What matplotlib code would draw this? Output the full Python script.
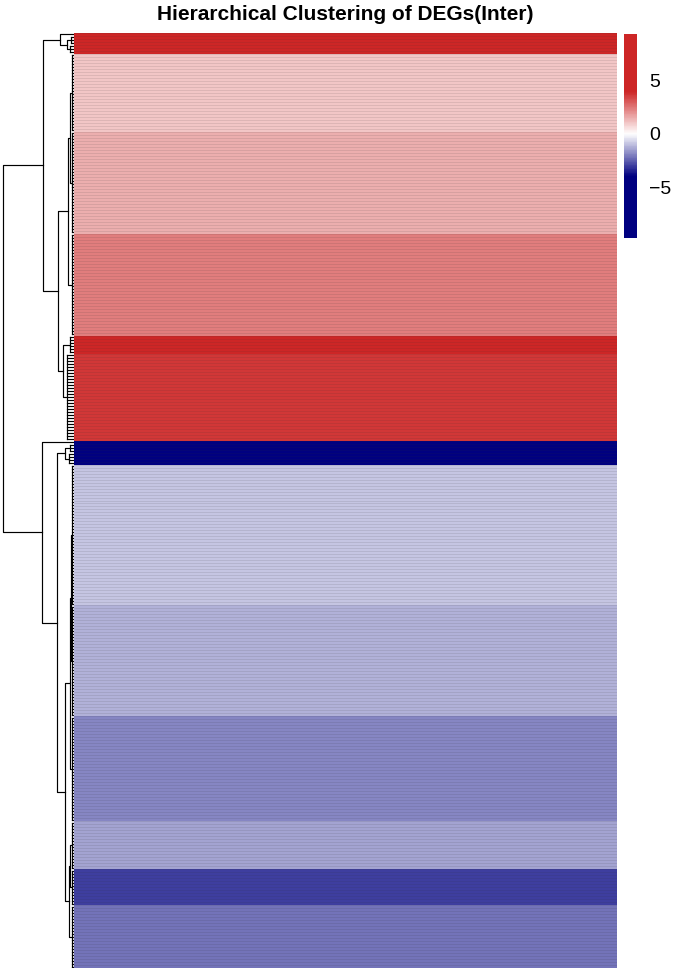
import numpy as np
import matplotlib as mpl
import matplotlib.pyplot as plt
from matplotlib.colors import LinearSegmentedColormap

# row blocks, top to bottom: rows in block, value (logFC), internal merge height
block_rows = [1, 3, 3, 26, 34, 34, 6, 29, 1, 3, 4, 47, 37, 35, 16, 12, 21]
block_values = [9.3, 8.8, 8.0, 1.0, 1.5, 2.4, 5.5, 3.7,
                -9.8, -6.5, -5.5, -0.9, -1.2, -1.9, -1.4, -3.0, -2.2]
block_spread = [0, 0.8, 0.9, 0.4, 0.5, 0.6, 0.9, 1.8,
                0, 1.0, 1.2, 0.4, 0.5, 0.6, 0.4, 0.6, 0.6]

# linkage between blocks (left, right, height); new nodes numbered after blocks
merges = [
    (1, 2, 1.7), (0, 17, 3.6), (3, 4, 0.9), (19, 5, 1.5), (6, 7, 2.8),
    (20, 21, 4.1), (18, 22, 7.9), (9, 10, 2.3), (11, 12, 0.8), (25, 13, 1.0),
    (14, 15, 0.9), (27, 16, 1.3), (26, 28, 2.3), (24, 29, 4.3), (8, 30, 8.1),
    (23, 31, 18.0),
]

legend_ticks = [-5, 0, 5]
vmin, vmax = -9.8, 9.4
sat = 4.0
title = 'Hierarchical Clustering of DEGs(Inter)'

plt.rcParams['font.family'] = ['Liberation Sans', 'DejaVu Sans']

values = np.repeat(block_values, block_rows)
nrows = len(values)
starts = np.concatenate([[0], np.cumsum(block_rows)[:-1]])

# navy - white - firebrick3, flat beyond +-sat
lo = (-sat - vmin) / (vmax - vmin)
mid = (0 - vmin) / (vmax - vmin)
hi = (sat - vmin) / (vmax - vmin)
cmap = LinearSegmentedColormap.from_list(
    'nwf', [(0, '#000080'), (lo, '#000080'), (mid, '#ffffff'),
            (hi, '#CD2626'), (1, '#CD2626')])

W, H = 675, 973
fig = plt.figure(figsize=(W / 100, H / 100), dpi=100)
top, bottom = 33, 968

ax = fig.add_axes([74 / W, 1 - bottom / H, 543 / W, (bottom - top) / H])
mesh = ax.pcolormesh(np.arange(2), np.arange(nrows + 1), values[:, None],
                     cmap=cmap, vmin=vmin, vmax=vmax)
# thin row separators, a touch darker than the cells
ax.hlines(np.arange(nrows + 1), 0, 1, colors=(0.2, 0.2, 0.2, 0.2), lw=0.4)
ax.set_ylim(nrows, 0)
ax.set_xlim(0, 1)
ax.axis('off')

# dendrogram
dax = fig.add_axes([0, 1 - bottom / H, 74 / W, (bottom - top) / H])
dax.set_ylim(nrows, 0)
root_h = merges[-1][2]
dax.set_xlim(root_h * 74 / 71, 0)
dax.axis('off')
lw, lc = 0.85, 'black'

nodes = {}
for i, (s, n, sp) in enumerate(zip(starts, block_rows, block_spread)):
    first, last = s + 0.5, s + n - 0.5
    if n > 1:
        for r in range(n):
            dax.plot([0, sp], [s + r + 0.5] * 2, color=lc, lw=lw)
        dax.plot([sp, sp], [first, last], color=lc, lw=lw)
    nodes[i] = ((first + last) / 2, sp)

for k, (a, b, h) in enumerate(merges):
    ya, ha = nodes[a]
    yb, hb = nodes[b]
    dax.plot([ha, h, h, hb], [ya, ya, yb, yb], color=lc, lw=lw)
    nodes[len(block_rows) + k] = ((ya + yb) / 2, h)

# legend
cax = fig.add_axes([624 / W, 1 - 238 / H, 13 / W, 204 / H])
cb = fig.colorbar(mesh, cax=cax, ticks=legend_ticks)
cb.outline.set_visible(False)
cax.tick_params(length=0, pad=9, labelsize=14)

fig.text(345.5 / W, 1 - 14 / H, title, ha='center', va='center',
         fontsize=15, fontweight='bold')

plt.savefig('out.png', dpi=100)
plt.close()
